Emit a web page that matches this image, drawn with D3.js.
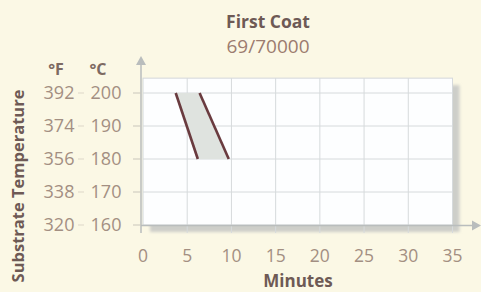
<!DOCTYPE html>
<html>
<head>
<meta charset="utf-8">
<script src="https://cdn.jsdelivr.net/npm/d3@7"></script>
<style>
  html, body { margin: 0; padding: 0; background: #fbf8e5; }
  svg { display: block; font-family: "Open Sans", sans-serif; }
</style>
</head>
<body>
<div id="chart"></div>
<script>
// chart values
var title = "First Coat";
var subtitle = "69/70000";
var minuteTicks = [0, 5, 10, 15, 20, 25, 30, 35];
var celsiusTicks = [200, 190, 180, 170, 160];
var fahrenheitTicks = [392, 374, 356, 338, 320];
var bandTemps = [200, 180];      // °C at top and bottom of the band
var bandStart = [3.7, 6.2];      // minutes, left edge of the band
var bandEnd = [6.4, 9.7];        // minutes, right edge of the band

var width = 481, height = 292;

// scales
var x = d3.scaleLinear().domain([0, 35]).range([143, 452.5]);
var y = d3.scaleLinear().domain([160, 200]).range([225, 93]);
var yTop = 204.5;

var svg = d3.select("#chart").append("svg")
    .attr("width", width)
    .attr("height", height);

var defs = svg.append("defs");
defs.append("filter").attr("id", "blur")
  .append("feGaussianBlur").attr("stdDeviation", 1.5);

// drop shadow of the plot panel
svg.append("rect")
    .attr("x", x(0) + 7)
    .attr("y", y(yTop) + 7)
    .attr("width", x(35) - x(0))
    .attr("height", y(160) - y(yTop))
    .attr("fill", "#cdcec9")
    .attr("filter", "url(#blur)");

// plot panel
svg.append("rect")
    .attr("x", x(0))
    .attr("y", y(yTop))
    .attr("width", x(35) - x(0))
    .attr("height", y(160) - y(yTop))
    .attr("fill", "#fdfeff")
    .attr("stroke", "#d4d8da")
    .attr("stroke-width", 1);

// grid
svg.append("g").selectAll("line")
  .data(minuteTicks.slice(1))
  .enter().append("line")
    .attr("x1", function(d) { return x(d); })
    .attr("x2", function(d) { return x(d); })
    .attr("y1", y(yTop))
    .attr("y2", y(160) + 8)
    .attr("stroke", "#d6dadc")
    .attr("stroke-width", 1);

svg.append("g").selectAll("line")
  .data(celsiusTicks.slice(0, 4))
  .enter().append("line")
    .attr("x1", x(0))
    .attr("x2", x(35))
    .attr("y1", function(d) { return y(d); })
    .attr("y2", function(d) { return y(d); })
    .attr("stroke", "#d6dadc")
    .attr("stroke-width", 1);

// band between the two lines
var band = bandTemps.map(function(t, i) {
  return { t: t, a: bandStart[i], b: bandEnd[i] };
});

var area = d3.area()
    .y(function(d) { return y(d.t); })
    .x0(function(d) { return x(d.a); })
    .x1(function(d) { return x(d.b); });

svg.append("path")
    .datum(band)
    .attr("d", area)
    .attr("fill", "#dfe3df");

var lineA = d3.line()
    .x(function(d) { return x(d.a); })
    .y(function(d) { return y(d.t); });
var lineB = d3.line()
    .x(function(d) { return x(d.b); })
    .y(function(d) { return y(d.t); });

svg.append("path").datum(band).attr("d", lineA)
    .attr("fill", "none").attr("stroke", "#6a3b3f").attr("stroke-width", 2.6);
svg.append("path").datum(band).attr("d", lineB)
    .attr("fill", "none").attr("stroke", "#6a3b3f").attr("stroke-width", 2.6);

// axes with arrows
var axisColor = "#b9bdbd";
svg.append("line")
    .attr("x1", x(0) - 2).attr("x2", 474)
    .attr("y1", y(160) + 0.5).attr("y2", y(160) + 0.5)
    .attr("stroke", axisColor).attr("stroke-width", 1.5);
svg.append("path")
    .attr("d", "M481," + (y(160) + 0.5) + "l-9,-5v10z")
    .attr("fill", axisColor);

svg.append("line")
    .attr("x1", x(0) - 2).attr("x2", x(0) - 2)
    .attr("y1", y(160) + 8).attr("y2", 64)
    .attr("stroke", axisColor).attr("stroke-width", 1.5);
svg.append("path")
    .attr("d", "M" + (x(0) - 2) + ",56l-5,9h10z")
    .attr("fill", axisColor);

// small y ticks
svg.append("g").selectAll("line")
  .data(celsiusTicks)
  .enter().append("line")
    .attr("x1", x(0) - 10).attr("x2", x(0) - 2)
    .attr("y1", function(d) { return y(d); })
    .attr("y2", function(d) { return y(d); })
    .attr("stroke", "#c9c6bb");

svg.append("g").selectAll("line")
  .data(celsiusTicks)
  .enter().append("line")
    .attr("x1", 78).attr("x2", 84)
    .attr("y1", function(d) { return y(d); })
    .attr("y2", function(d) { return y(d); })
    .attr("stroke", "#ddd7c8");

// tick labels
var tickColor = "#a38f82";
svg.append("g").selectAll("text")
  .data(minuteTicks)
  .enter().append("text")
    .attr("x", function(d) { return x(d); })
    .attr("y", 262)
    .attr("text-anchor", "middle")
    .attr("font-size", 17.5)
    .attr("fill", tickColor)
    .text(function(d) { return d; });

svg.append("g").selectAll("text")
  .data(celsiusTicks)
  .enter().append("text")
    .attr("x", 106)
    .attr("y", function(d) { return y(d) + 6; })
    .attr("text-anchor", "middle")
    .attr("font-size", 18)
    .attr("fill", tickColor)
    .text(function(d) { return d; });

svg.append("g").selectAll("text")
  .data(fahrenheitTicks)
  .enter().append("text")
    .attr("x", 59)
    .attr("y", function(d, i) { return y(celsiusTicks[i]) + 6; })
    .attr("text-anchor", "middle")
    .attr("font-size", 18)
    .attr("fill", tickColor)
    .text(function(d) { return d; });

// unit headers
svg.append("text").attr("x", 56).attr("y", 75)
    .attr("text-anchor", "middle").attr("font-size", 16).attr("font-weight", "bold")
    .attr("fill", "#7d6a62").text("°F");
svg.append("text").attr("x", 98).attr("y", 75)
    .attr("text-anchor", "middle").attr("font-size", 16).attr("font-weight", "bold")
    .attr("fill", "#7d6a62").text("°C");

// titles
svg.append("text").attr("x", 268).attr("y", 28)
    .attr("text-anchor", "middle").attr("font-size", 17.5).attr("font-weight", "bold")
    .attr("fill", "#6e5a55").text(title);
svg.append("text").attr("x", 268).attr("y", 53)
    .attr("text-anchor", "middle").attr("font-size", 19)
    .attr("fill", "#9c7c6f").text(subtitle);

// axis titles
svg.append("text").attr("x", 298).attr("y", 287)
    .attr("text-anchor", "middle").attr("font-size", 17).attr("font-weight", "bold")
    .attr("fill", "#6e5a55").text("Minutes");
svg.append("text")
    .attr("transform", "translate(24,186) rotate(-90)")
    .attr("text-anchor", "middle").attr("font-size", 16.5).attr("font-weight", "bold")
    .attr("fill", "#6e5a55").text("Substrate Temperature");
</script>
</body>
</html>
